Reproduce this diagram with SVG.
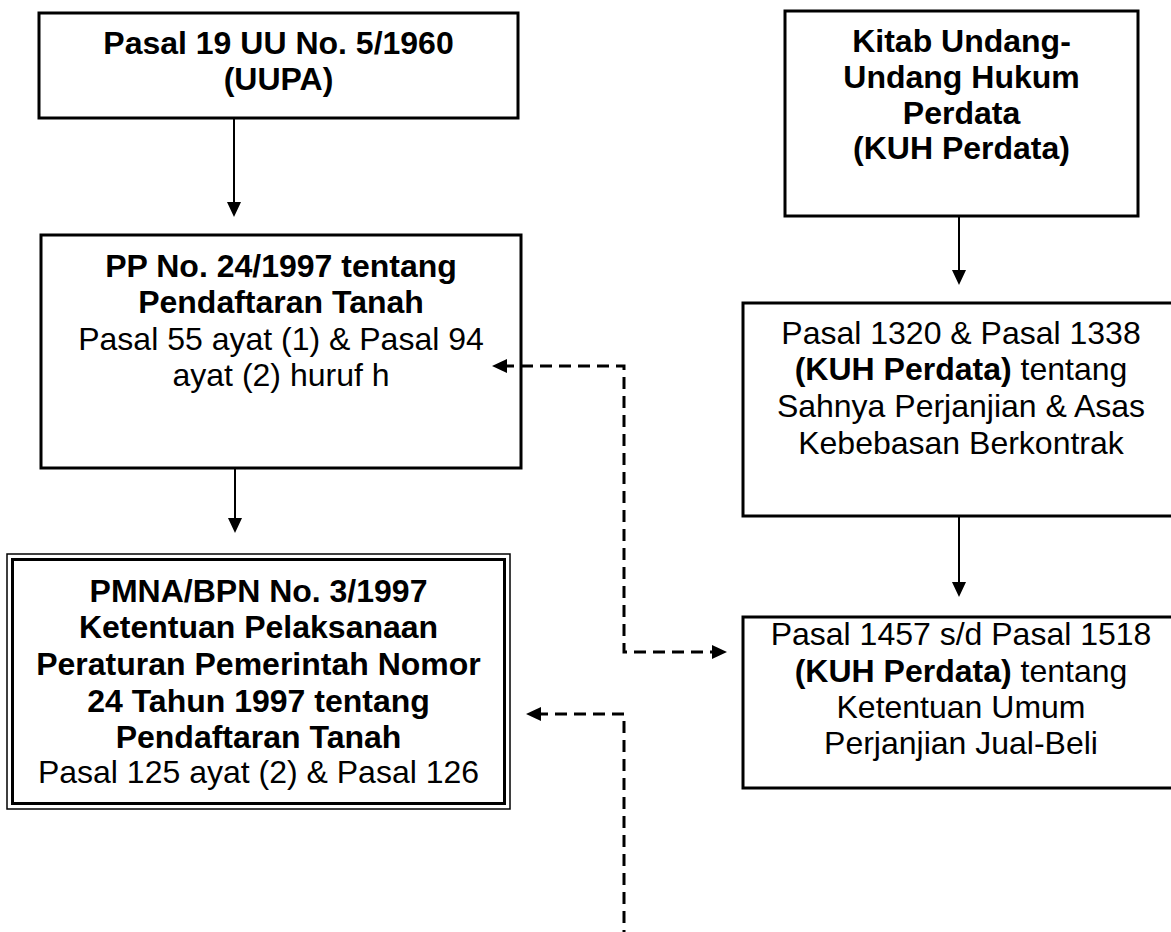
<svg xmlns="http://www.w3.org/2000/svg" width="1171" height="932" viewBox="0 0 1171 932">
<defs>
<style>
.box{fill:#fff;stroke:#000;stroke-width:3}
.t{font-family:"Liberation Sans",Arial,sans-serif;font-size:32px;fill:#000;text-anchor:middle}
.b{font-weight:bold}
.con{fill:none;stroke:#000;stroke-width:2}
.dash{fill:none;stroke:#000;stroke-width:3;stroke-dasharray:12 7}
</style>
<marker id="ah" viewBox="0 0 15 14" refX="5" refY="7" markerWidth="15" markerHeight="14" orient="auto-start-reverse" markerUnits="userSpaceOnUse">
<path d="M0,0 L15,7 L0,14 z" fill="#000"/>
</marker>
</defs>
<rect width="1171" height="932" fill="#fff"/>

<g id="connectors">
<path class="con" d="M234 118 V207" marker-end="url(#ah)"/>
<path class="con" d="M235 468 V523" marker-end="url(#ah)"/>
<path class="con" d="M959 216 V275" marker-end="url(#ah)"/>
<path class="con" d="M959 516 V587" marker-end="url(#ah)"/>
<path class="dash" d="M502 366 H624 V652 H717" marker-start="url(#ah)" marker-end="url(#ah)"/>
<path class="dash" d="M536 714 H624 V945" marker-start="url(#ah)"/>
</g>

<g id="uupa">
<rect class="box" x="39" y="13" width="479" height="105"/>
<text class="t b" x="278.5" y="54">Pasal 19 UU No. 5/1960</text>
<text class="t b" x="278.5" y="90">(UUPA)</text>
</g>

<g id="kuhperdata">
<rect class="box" x="785" y="11" width="353" height="205"/>
<text class="t b" x="961.5" y="52">Kitab Undang-</text>
<text class="t b" x="961.5" y="88">Undang Hukum</text>
<text class="t b" x="961.5" y="124">Perdata</text>
<text class="t b" x="961.5" y="159">(KUH Perdata)</text>
</g>

<g id="pp24">
<rect class="box" x="41" y="235" width="480" height="233" fill-opacity="0"/>
<text class="t b" x="281" y="277">PP No. 24/1997 tentang</text>
<text class="t b" x="281" y="313">Pendaftaran Tanah</text>
<text class="t" x="281" y="350">Pasal 55 ayat (1) &amp; Pasal 94</text>
<text class="t" x="281" y="386">ayat (2) huruf h</text>
</g>

<g id="pasal1320">
<rect class="box" x="743" y="303" width="440" height="213"/>
<text class="t" x="961" y="344">Pasal 1320 &amp; Pasal 1338</text>
<text class="t" x="961" y="380"><tspan class="b">(KUH Perdata)</tspan> tentang</text>
<text class="t" x="961" y="417">Sahnya Perjanjian &amp; Asas</text>
<text class="t" x="961" y="454">Kebebasan Berkontrak</text>
</g>

<g id="pmna">
<rect x="7" y="554" width="503" height="255" fill="#fff" stroke="#000" stroke-width="1.5"/>
<rect x="12.5" y="559.5" width="492" height="244" fill="none" stroke="#000" stroke-width="3"/>
<text class="t b" x="258.5" y="602">PMNA/BPN No. 3/1997</text>
<text class="t b" x="258.5" y="638">Ketentuan Pelaksanaan</text>
<text class="t b" x="258.5" y="675">Peraturan Pemerintah Nomor</text>
<text class="t b" x="258.5" y="712">24 Tahun 1997 tentang</text>
<text class="t b" x="258.5" y="748">Pendaftaran Tanah</text>
<text class="t" x="258.5" y="783">Pasal 125 ayat (2) &amp; Pasal 126</text>
</g>

<g id="pasal1457">
<rect class="box" x="743" y="617" width="440" height="171"/>
<text class="t" x="961" y="645">Pasal 1457 s/d Pasal 1518</text>
<text class="t" x="961" y="682"><tspan class="b">(KUH Perdata)</tspan> tentang</text>
<text class="t" x="961" y="718">Ketentuan Umum</text>
<text class="t" x="961" y="754">Perjanjian Jual-Beli</text>
</g>
</svg>
